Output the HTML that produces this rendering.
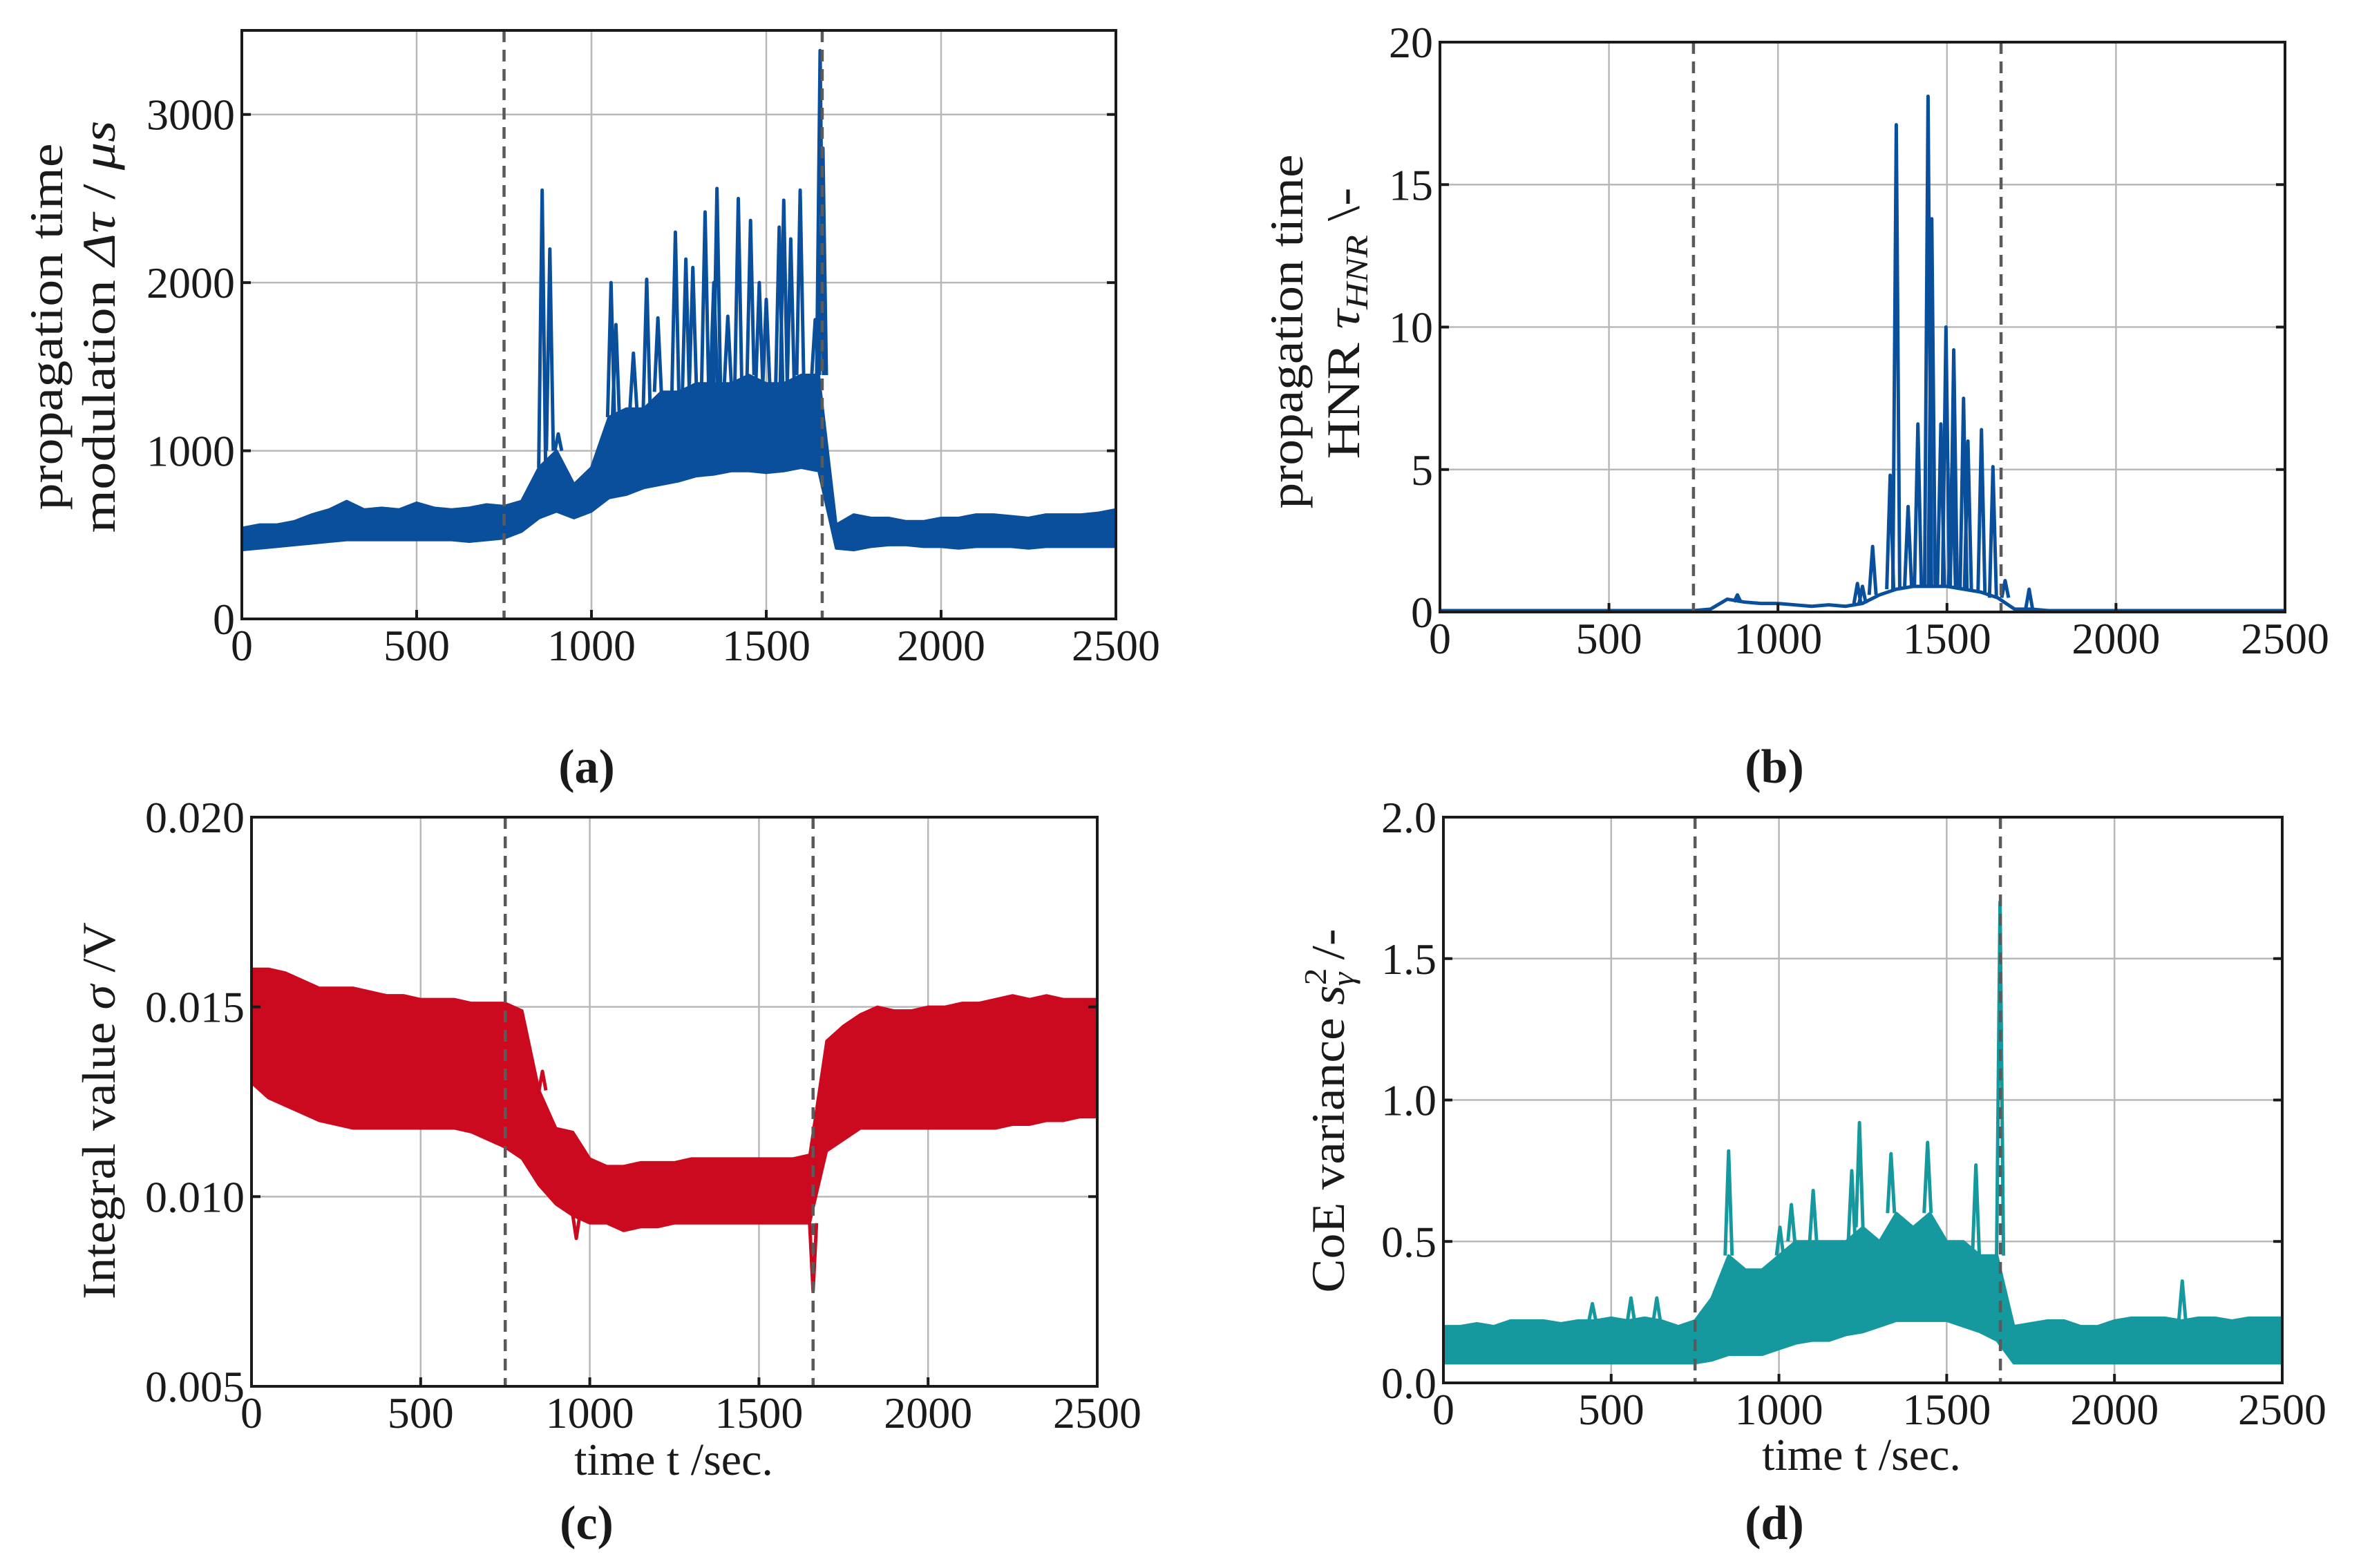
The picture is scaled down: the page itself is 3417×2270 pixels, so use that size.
<!DOCTYPE html>
<html><head><meta charset="utf-8"><style>
html,body{margin:0;padding:0;background:#fff;}
svg{display:block;font-family:"Liberation Serif",serif;}
</style></head><body>
<svg id="fig" width="3417" height="2270" viewBox="0 0 3417 2270" xmlns="http://www.w3.org/2000/svg"></svg>
<script>
// ---------- DATA ----------
const binTimes = [0,50,100,150,200,250,300,350,400,450,500,550,600,650,700,750,800,850,900,950,1000,1050,1100,1150,1200,1250,1300,1350,1400,1450,1500,1550,1600,1650,1700,1750,1800,1850,1900,1950,2000,2050,2100,2150,2200,2250,2300,2350,2400,2450,2500];
const eventTimes = [750,1660];

const aLow  = [410,420,430,440,450,460,470,470,470,470,470,470,470,460,470,480,520,600,640,600,640,720,740,780,800,820,850,860,880,880,870,880,900,880,420,410,430,440,440,430,430,420,430,430,430,420,430,430,430,430,430];
const aHigh = [540,560,560,580,620,650,700,650,660,650,690,660,650,660,680,670,700,900,1000,800,900,1200,1250,1250,1350,1350,1400,1400,1400,1450,1400,1400,1450,1450,560,620,600,600,580,580,600,600,620,620,610,600,620,620,620,630,650];
const aSpikeT = [859,881,905,1056,1070,1120,1158,1190,1240,1270,1290,1325,1350,1359,1390,1420,1455,1480,1500,1537,1550,1570,1597,1640,1654,1662];
const aSpikeV = [2550,2200,1100,2000,1750,1580,2020,1790,2300,2140,2090,2420,2000,2560,1800,2500,2370,2000,1900,2330,2490,2260,2550,1780,3380,2800];

const bBase = [0.05,0.05,0.05,0.05,0.05,0.05,0.05,0.05,0.05,0.05,0.05,0.05,0.05,0.05,0.05,0.05,0.1,0.45,0.35,0.3,0.3,0.25,0.2,0.25,0.2,0.3,0.6,0.8,0.9,0.9,0.9,0.8,0.7,0.5,0.1,0.1,0.05,0.05,0.05,0.05,0.05,0.05,0.05,0.05,0.05,0.05,0.05,0.05,0.05,0.05,0.05];
const bSpikeT = [880,1235,1250,1280,1332,1350,1385,1414,1444,1455,1482,1497,1515,1520,1549,1562,1602,1636,1672,1743];
const bSpikeV = [0.6,1.0,0.9,2.3,4.8,17.1,3.7,6.6,18.1,13.8,6.6,10.0,5.2,9.2,7.5,6.0,6.4,5.1,1.1,0.8];

const cLow  = [.0130,.0126,.0124,.0122,.0120,.0119,.0118,.0118,.0118,.0118,.0118,.0118,.0118,.0117,.0115,.0113,.0110,.0103,.0098,.0095,.0093,.0093,.0091,.0092,.0092,.0093,.0093,.0093,.0093,.0093,.0093,.0093,.0093,.0093,.0112,.0115,.0118,.0118,.0118,.0118,.0118,.0118,.0118,.0118,.0118,.0119,.0119,.0120,.0120,.0121,.0121];
const cHigh = [.0160,.0160,.0159,.0157,.0155,.0155,.0155,.0154,.0153,.0153,.0152,.0152,.0152,.0151,.0151,.0151,.0149,.0128,.0118,.0117,.0110,.0108,.0108,.0109,.0109,.0109,.0110,.0110,.0110,.0110,.0110,.0110,.0110,.0111,.0141,.0145,.0148,.0150,.0149,.0149,.0150,.0150,.0151,.0151,.0152,.0153,.0152,.0153,.0152,.0152,.0152];
const cSpikeT = [860,960,1660];
const cSpikeV = [.0133,.0089,.0075];

const dLow  = [0.07,0.07,0.07,0.07,0.07,0.07,0.07,0.07,0.07,0.07,0.07,0.07,0.07,0.07,0.07,0.07,0.08,0.1,0.1,0.1,0.12,0.14,0.15,0.15,0.17,0.18,0.2,0.22,0.22,0.22,0.22,0.2,0.18,0.15,0.07,0.07,0.07,0.07,0.07,0.07,0.07,0.07,0.07,0.07,0.07,0.07,0.07,0.07,0.07,0.07,0.07];
const dHigh = [0.2,0.2,0.21,0.2,0.22,0.22,0.22,0.21,0.22,0.22,0.23,0.22,0.23,0.22,0.2,0.22,0.3,0.45,0.4,0.4,0.45,0.5,0.5,0.5,0.5,0.55,0.5,0.6,0.55,0.6,0.5,0.5,0.45,0.45,0.2,0.21,0.22,0.22,0.2,0.2,0.22,0.23,0.23,0.23,0.22,0.23,0.23,0.22,0.23,0.23,0.23];
const dSpikeT = [444,559,636,850,1003,1037,1102,1217,1240,1334,1443,1587,1659,2202];
const dSpikeV = [0.28,0.3,0.3,0.82,0.55,0.63,0.68,0.75,0.92,0.81,0.85,0.77,1.70,0.36];

const xTicks = [0,500,1000,1500,2000,2500];
const aTicks = [0,1000,2000,3000];
const aTickLabels = ["0","1000","2000","3000"];
const bTicks = [0,5,10,15,20];
const bTickLabels = ["0","5","10","15","20"];
const cTicks = [0.005,0.010,0.015,0.020];
const cTickLabels = ["0.005","0.010","0.015","0.020"];
const dTicks = [0,0.5,1,1.5,2];
const dTickLabels = ["0.0","0.5","1.0","1.5","2.0"];

// ---------- DRAW ----------
const NS = "http://www.w3.org/2000/svg";
const svg = document.getElementById('fig');
function mk(tag, attrs, parent){
  const e = document.createElementNS(NS, tag);
  for (const k in attrs) e.setAttribute(k, attrs[k]);
  (parent||svg).appendChild(e);
  return e;
}

function panel(p){
  const g = mk('g', {});
  
  
  const X = t => p.L + (t - 0) / 2500 * (p.R - p.L);
  const Y = v => p.B - (v - p.ymin) / (p.ymax - p.ymin) * (p.B - p.T);
  xTicks.forEach(t => {
    const l = mk('line', {x1:X(t), x2:X(t), y1:p.T, y2:p.B, stroke:'#b8b8b8', 'stroke-width':2.5}, g);
    
    
  });
  p.yt.forEach(v => {
    const l = mk('line', {x1:p.L, x2:p.R, y1:Y(v), y2:Y(v), stroke:'#b8b8b8', 'stroke-width':2.5}, g);
    
    
  });
  if (p.lo) {
    let pts = [];
    binTimes.forEach((t,i) => pts.push(X(t)+','+Y(p.hi[i])));
    for (let i = binTimes.length-1; i >= 0; i--) pts.push(X(binTimes[i])+','+Y(p.lo[i]));
    const band = mk('polygon', {points:pts.join(' '), fill:p.color, stroke:p.color, 'stroke-width':4, 'stroke-linejoin':'round'}, g);
    
    
  } else {
    let pts = binTimes.map((t,i) => X(t)+','+Y(p.base[i])).join(' ');
    const ln = mk('polyline', {points:pts, fill:'none', stroke:p.color, 'stroke-width':5}, g);
    
    
  }
  p.st.forEach((t,i) => {
    const idx = Math.min(binTimes.length-1, Math.round(t/50));
    const b = p.lo ? (p.sv[i] < p.lo[idx] ? p.lo[idx] : p.hi[idx]) : p.base[idx];
    const pts = [X(t)-5+','+Y(b), X(t)+','+Y(p.sv[i]), X(t)+5+','+Y(b)].join(' ');
    const s = mk('polyline', {points:pts, fill:'none', stroke:p.color, 'stroke-width':5, 'stroke-linejoin':'round'}, g);
    
    
  });
  eventTimes.forEach(t => {
    const l = mk('line', {x1:X(t), x2:X(t), y1:p.T, y2:p.B, stroke:'#5a5a5a', 'stroke-width':4.5, 'stroke-dasharray':'17 11'}, g);
    
    
  });
  const fr = mk('rect', {x:p.L, y:p.T, width:p.R-p.L, height:p.B-p.T, fill:'none', stroke:'#1a1a1a', 'stroke-width':4}, g);
  
  
  xTicks.forEach(t => {
    mk('line', {x1:X(t), x2:X(t), y1:p.B, y2:p.B-13, stroke:'#1a1a1a', 'stroke-width':4}, g);
    const tx = mk('text', {x:X(t), y:p.B+60, 'font-size':64, 'text-anchor':'middle', fill:'#1a1a1a'}, g);
    tx.textContent = String(t);
    
    
  });
  p.yt.forEach((v,i) => {
    mk('line', {x1:p.L, x2:p.L+13, y1:Y(v), y2:Y(v), stroke:'#1a1a1a', 'stroke-width':4}, g);
    mk('line', {x1:p.R, x2:p.R-13, y1:Y(v), y2:Y(v), stroke:'#1a1a1a', 'stroke-width':4}, g);
    const tx = mk('text', {x:p.L-10, y:Y(v)+22, 'font-size':64, 'text-anchor':'end', fill:'#1a1a1a'}, g);
    tx.textContent = p.ytl[i];
    
    
  });
  return g;
}

panel({name:'panel-a-propagation-modulation', L:350, R:1615, T:44, B:896, ymin:0, ymax:3500, yt:aTicks, ytl:aTickLabels, color:'#0a4f9c', lo:aLow, hi:aHigh, st:aSpikeT, sv:aSpikeV});
panel({name:'panel-b-hnr', L:2084, R:3307, T:61, B:886, ymin:0, ymax:20, yt:bTicks, ytl:bTickLabels, color:'#0a4f9c', base:bBase, st:bSpikeT, sv:bSpikeV});
panel({name:'panel-c-integral-value', L:364, R:1588, T:1183, B:2007, ymin:0.005, ymax:0.020, yt:cTicks, ytl:cTickLabels, color:'#cc0a1f', lo:cLow, hi:cHigh, st:cSpikeT, sv:cSpikeV});
panel({name:'panel-d-coe-variance', L:2089, R:3303, T:1183, B:2002, ymin:0, ymax:2, yt:dTicks, ytl:dTickLabels, color:'#16999e', lo:dLow, hi:dHigh, st:dSpikeT, sv:dSpikeV});

// ---------- LABELS ----------
function rotLabel(name, x, y, w, parts){
  const e = document.createElementNS(NS,'text');
  e.setAttribute('transform','translate('+x+','+y+') rotate(-90)');
  e.setAttribute('text-anchor','middle');
  e.setAttribute('dy','0.35em');
  e.setAttribute('font-size','68');
  e.setAttribute('fill','#1a1a1a');
  e.setAttribute('textLength', w);
  e.setAttribute('lengthAdjust','spacingAndGlyphs');
  
  
  parts.forEach(pt => {
    const s = document.createElementNS(NS,'tspan');
    if (pt.i) s.setAttribute('font-style','italic');
    if (pt.s) s.setAttribute('font-size', pt.s);
    if (pt.dy) s.setAttribute('dy', pt.dy);
    if (pt.dx) s.setAttribute('dx', pt.dx);
    s.textContent = pt.t;
    e.appendChild(s);
  });
  svg.appendChild(e);
}
rotLabel('y-axis-title-a-line1', 66, 473, 531, [{t:'propagation time'}]);
rotLabel('y-axis-title-a-line2', 142, 473, 597, [{t:'modulation '},{t:'Δτ',i:1},{t:' / '},{t:'μs',i:1}]);
rotLabel('y-axis-title-b-line1', 1861, 480, 513, [{t:'propagation time'}]);
rotLabel('y-axis-title-b-line2', 1943, 468, 393, [{t:'HNR '},{t:'τ',i:1},{t:'HNR',i:1,s:46,dy:12},{t:' \\-',dy:-12}]);
rotLabel('y-axis-title-c', 142, 1608, 546, [{t:'Integral value '},{t:'σ',i:1},{t:' /V'}]);
rotLabel('y-axis-title-d', 1921, 1608, 527, [{t:'CoE variance '},{t:'s',i:1},{t:'2',s:46,dy:-26},{t:'γ',i:1,s:46,dy:40,dx:-24},{t:' /-',dy:-14}]);

const flat = [
  {n:'x-axis-title-c', x:975, y:2135, t:'time t /sec.', s:66, b:false},
  {n:'x-axis-title-d', x:2694, y:2128, t:'time t /sec.', s:66, b:false},
  {n:'caption-a', x:849, y:1133, t:'(a)', s:70, b:true},
  {n:'caption-b', x:2568, y:1133, t:'(b)', s:70, b:true},
  {n:'caption-c', x:849, y:2228, t:'(c)', s:70, b:true},
  {n:'caption-d', x:2568, y:2228, t:'(d)', s:70, b:true}
];
flat.forEach(l => {
  const e = document.createElementNS(NS,'text');
  e.setAttribute('x', l.x); e.setAttribute('y', l.y);
  e.setAttribute('text-anchor','middle');
  e.setAttribute('font-size', l.s);
  e.setAttribute('fill','#1a1a1a');
  if (l.b) e.setAttribute('font-weight','bold');
  
  
  e.textContent = l.t;
  svg.appendChild(e);
});
</script>
</body></html>
